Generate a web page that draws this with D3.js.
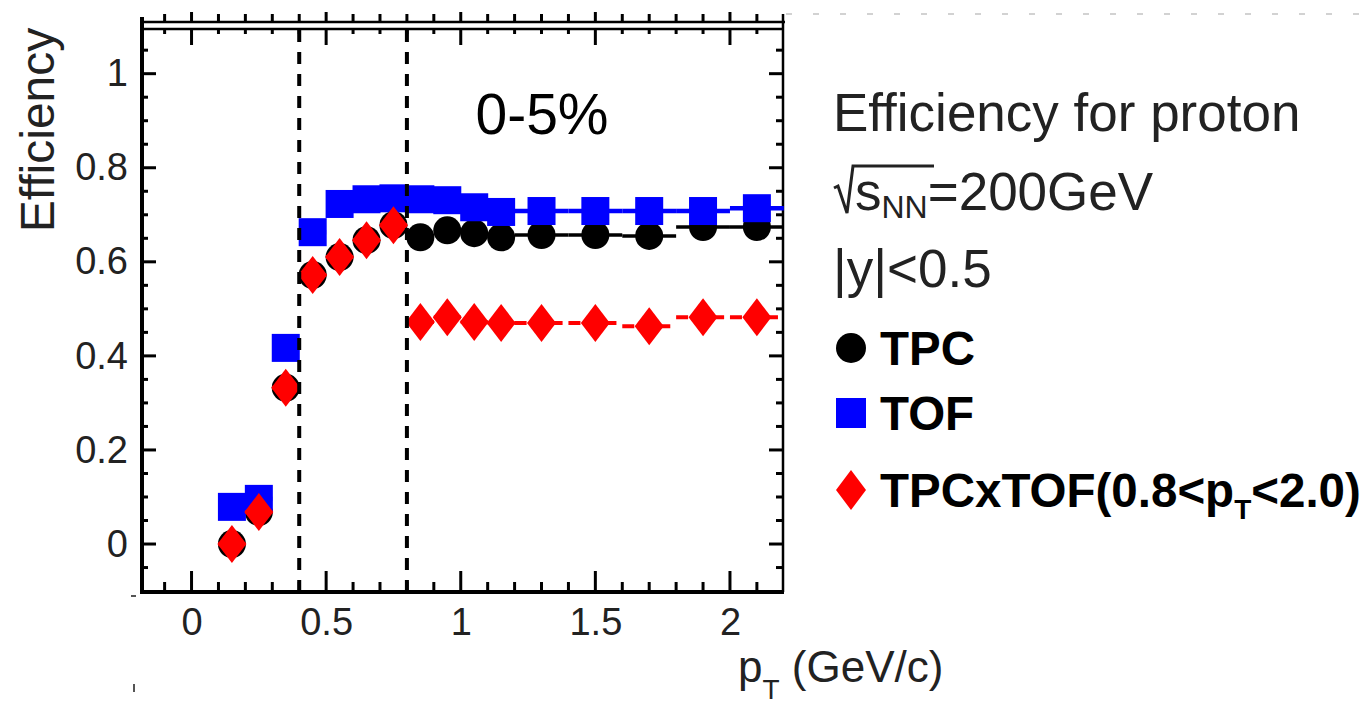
<!DOCTYPE html>
<html>
<head>
<meta charset="utf-8">
<script src="https://cdn.jsdelivr.net/npm/d3@7"></script>
<style>
  body { margin: 0; background: #fff; }
  svg { display: block; font-family: "Liberation Sans", Arial, Helvetica, sans-serif; }
</style>
</head>
<body>
<svg width="1369" height="705"></svg>
<script>
// pT bins (centres and edges) and efficiencies
const ptCenters = [0.15, 0.25, 0.35, 0.45, 0.55, 0.65, 0.75, 0.85, 0.95, 1.05, 1.15, 1.3, 1.5, 1.7, 1.9, 2.1];
const ptEdges = [0.1, 0.2, 0.3, 0.4, 0.5, 0.6, 0.7, 0.8, 0.9, 1.0, 1.1, 1.2, 1.4, 1.6, 1.8, 2.0, 2.2];
const tpcEff = [0.0, 0.068, 0.332, 0.572, 0.61, 0.646, 0.678, 0.652, 0.667, 0.661, 0.652, 0.657, 0.657, 0.655, 0.674, 0.674];
const tofEff = [0.079, 0.096, 0.417, 0.663, 0.723, 0.733, 0.735, 0.733, 0.731, 0.716, 0.706, 0.708, 0.708, 0.708, 0.708, 0.714];
const tpcTofEff = [0.0, 0.068, 0.332, 0.572, 0.61, 0.646, 0.678, 0.472, 0.482, 0.472, 0.47, 0.47, 0.47, 0.463, 0.482, 0.482];

const xTicks = [0, 0.5, 1, 1.5, 2];
const yTicks = [0, 0.2, 0.4, 0.6, 0.8, 1];
const cutLines = [0.4, 0.8];
const legendLabels = ["TPC", "TOF", "TPCxTOF"];

const svg = d3.select("svg");

const x = d3.scaleLinear().domain([-0.184, 2.197]).range([142, 783]);
const y = d3.scaleLinear().domain([-0.102, 1.095]).range([592, 29]);

const [x0, x1] = x.range();
const [y0, y1] = y.range();

const xMinor = d3.range(-1, 22).map((i) => i / 10).filter((v) => v > -0.18 && v < 2.19);
const yMinor = d3.range(-2, 22).map((i) => i / 20).filter((v) => v > -0.1 && v < 1.09);
const isMajorY = (d) => Math.abs(d * 5 - Math.round(d * 5)) < 1e-6;

// leftover of the panel above: its bottom axis with ticks pointing up
svg.append("line")
  .attr("x1", x0).attr("x2", x1 + 2).attr("y1", 22).attr("y2", 22)
  .attr("stroke", "#000").attr("stroke-width", 2.5);
svg.append("g")
  .selectAll("line")
  .data(xMinor)
  .join("line")
  .attr("x1", (d) => x(d)).attr("x2", (d) => x(d))
  .attr("y1", 22).attr("y2", (d) => (xTicks.includes(d) ? 12 : 14))
  .attr("stroke", "#000").attr("stroke-width", 3);

// dashed line top right
svg.append("line")
  .attr("x1", 786).attr("x2", 1369).attr("y1", 14).attr("y2", 14)
  .attr("stroke", "#c4c4c4").attr("stroke-width", 1.5)
  .attr("stroke-dasharray", "6,21");

// ticks, inward, on all four sides
const ticks = svg.append("g").attr("stroke", "#000").attr("stroke-width", 3);
ticks.selectAll(".xb")
  .data(xMinor)
  .join("line")
  .attr("x1", (d) => x(d)).attr("x2", (d) => x(d))
  .attr("y1", y0).attr("y2", (d) => y0 - (xTicks.includes(d) ? 21 : 10));
ticks.selectAll(".xt")
  .data(xMinor)
  .join("line")
  .attr("x1", (d) => x(d)).attr("x2", (d) => x(d))
  .attr("y1", y1).attr("y2", (d) => y1 + (xTicks.includes(d) ? 16 : 5));
ticks.selectAll(".yl")
  .data(yMinor)
  .join("line")
  .attr("y1", (d) => y(d)).attr("y2", (d) => y(d))
  .attr("x1", x0).attr("x2", (d) => x0 + (isMajorY(d) ? 14 : 6));
ticks.selectAll(".yr")
  .data(yMinor)
  .join("line")
  .attr("y1", (d) => y(d)).attr("y2", (d) => y(d))
  .attr("x1", x1).attr("x2", (d) => x1 - (isMajorY(d) ? 14 : 7));

// frame
svg.append("line").attr("x1", x0).attr("x2", x0).attr("y1", 17).attr("y2", y0 + 2)
  .attr("stroke", "#000").attr("stroke-width", 4);
svg.append("line").attr("x1", x0).attr("x2", x1 + 1).attr("y1", y0).attr("y2", y0)
  .attr("stroke", "#000").attr("stroke-width", 4);
svg.append("line").attr("x1", x0).attr("x2", x1).attr("y1", y1).attr("y2", y1)
  .attr("stroke", "#000").attr("stroke-width", 2.5);
svg.append("line").attr("x1", x1).attr("x2", x1).attr("y1", 14).attr("y2", y0)
  .attr("stroke", "#000").attr("stroke-width", 2.5);

// tick labels
svg.append("g")
  .attr("transform", `translate(0,${y0})`)
  .call(d3.axisBottom(x).tickValues(xTicks).tickSize(0).tickPadding(16).tickFormat((d) => String(d)))
  .call((g) => g.select(".domain").remove())
  .selectAll("text")
  .attr("font-size", 38)
  .attr("font-family", "Liberation Sans, Arial, sans-serif")
  .attr("fill", "#222");

svg.append("g")
  .attr("transform", `translate(${x0},0)`)
  .call(d3.axisLeft(y).tickValues(yTicks).tickSize(0).tickPadding(14).tickFormat((d) => String(d)))
  .call((g) => g.select(".domain").remove())
  .selectAll("text")
  .attr("font-size", 38)
  .attr("font-family", "Liberation Sans, Arial, sans-serif")
  .attr("fill", "#222");

// axis titles
svg.append("text")
  .attr("transform", "translate(54,130) rotate(-90)")
  .attr("text-anchor", "middle")
  .attr("font-size", 48)
  .attr("fill", "#222")
  .text("Efficiency");

const xTitle = svg.append("text")
  .attr("x", 738).attr("y", 682)
  .attr("font-size", 44)
  .attr("fill", "#222");
xTitle.append("tspan").text("p");
xTitle.append("tspan").attr("font-size", 28).attr("dy", 17).text("T");
xTitle.append("tspan").attr("dy", -17).text(" (GeV/c)");

// per-bin horizontal lines
const bins = ptCenters.map((c, i) => ({ lo: ptEdges[i], hi: ptEdges[i + 1], i }));
const binLines = (vals, color, width, dash) =>
  svg.append("g")
    .selectAll("line")
    .data(bins)
    .join("line")
    .attr("x1", (d) => x(d.lo)).attr("x2", (d) => x(d.hi))
    .attr("y1", (d) => y(vals[d.i])).attr("y2", (d) => y(vals[d.i]))
    .attr("stroke", color).attr("stroke-width", width)
    .attr("stroke-dasharray", dash);

const diamond = (cx, cy, w, h) =>
  `M${cx},${cy - h} L${cx + w},${cy} L${cx},${cy + h} L${cx - w},${cy} Z`;

// TPC
binLines(tpcEff, "#000", 3.5, null);
svg.append("g")
  .selectAll("circle")
  .data(ptCenters)
  .join("circle")
  .attr("cx", (d) => x(d))
  .attr("cy", (d, i) => y(tpcEff[i]))
  .attr("r", 14)
  .attr("fill", "#000");

// TOF
binLines(tofEff, "#0000ff", 4.5, null);
svg.append("g")
  .selectAll("rect")
  .data(ptCenters)
  .join("rect")
  .attr("x", (d) => x(d) - 14)
  .attr("y", (d, i) => y(tofEff[i]) - 14)
  .attr("width", 28)
  .attr("height", 28)
  .attr("fill", "#0000ff");

// TPC x TOF
binLines(tpcTofEff, "#ff0000", 4, "12,6");
svg.append("g")
  .selectAll("path")
  .data(ptCenters)
  .join("path")
  .attr("d", (d, i) => diamond(x(d), y(tpcTofEff[i]), 14.5, 19))
  .attr("fill", "#ff0000");

// dashed cut lines
svg.append("g")
  .selectAll("line")
  .data(cutLines)
  .join("line")
  .attr("x1", (d) => x(d)).attr("x2", (d) => x(d))
  .attr("y1", y0).attr("y2", y1)
  .attr("stroke", "#000").attr("stroke-width", 4)
  .attr("stroke-dasharray", "12,10");

// centrality label
svg.append("text")
  .attr("x", 542).attr("y", 134)
  .attr("text-anchor", "middle")
  .attr("font-size", 57)
  .attr("fill", "#000")
  .text("0-5%");

// header text
svg.append("text")
  .attr("x", 833).attr("y", 131)
  .attr("font-size", 53)
  .attr("fill", "#222")
  .text("Efficiency for proton");

const energy = svg.append("text")
  .attr("x", 855).attr("y", 210)
  .attr("font-size", 53)
  .attr("fill", "#222");
energy.append("tspan").text("s");
energy.append("tspan").attr("font-size", 32).attr("dy", 8).text("NN");
energy.append("tspan").attr("dy", -8).text("=200GeV");
svg.append("path")
  .attr("d", "M834,188 L838,186 L847,213 L853,166 L934,166")
  .attr("fill", "none")
  .attr("stroke", "#222")
  .attr("stroke-width", 3);

svg.append("text")
  .attr("x", 833).attr("y", 287)
  .attr("font-size", 53)
  .attr("fill", "#222")
  .text("|y|<0.5");

// legend
const legendY = [348, 413, 490];
const legend = svg.append("g")
  .selectAll("g")
  .data(legendLabels)
  .join("g")
  .attr("transform", (d, i) => `translate(851,${legendY[i]})`);

legend.filter((d, i) => i === 0).append("circle").attr("r", 15).attr("fill", "#000");
legend.filter((d, i) => i === 1).append("rect")
  .attr("x", -15).attr("y", -15).attr("width", 30).attr("height", 30).attr("fill", "#0000ff");
legend.filter((d, i) => i === 2).append("path")
  .attr("d", diamond(0, 0, 15, 20)).attr("fill", "#ff0000");

const legendText = legend.append("text")
  .attr("x", 29).attr("y", 17)
  .attr("font-size", 47.5)
  .attr("font-weight", "bold")
  .attr("fill", "#000");
legendText.filter((d, i) => i < 2).text((d) => d);
const tpcTofText = legendText.filter((d, i) => i === 2);
tpcTofText.append("tspan").text("TPCxTOF(0.8<p");
tpcTofText.append("tspan").attr("font-size", 28).attr("dy", 12).text("T");
tpcTofText.append("tspan").attr("dy", -12).text("<2.0)");

// stray marks at the left edge
svg.append("line").attr("x1", 131).attr("x2", 136).attr("y1", 596).attr("y2", 596)
  .attr("stroke", "#555").attr("stroke-width", 2);
svg.append("line").attr("x1", 134).attr("x2", 134).attr("y1", 684).attr("y2", 692)
  .attr("stroke", "#555").attr("stroke-width", 2);
</script>
</body>
</html>
